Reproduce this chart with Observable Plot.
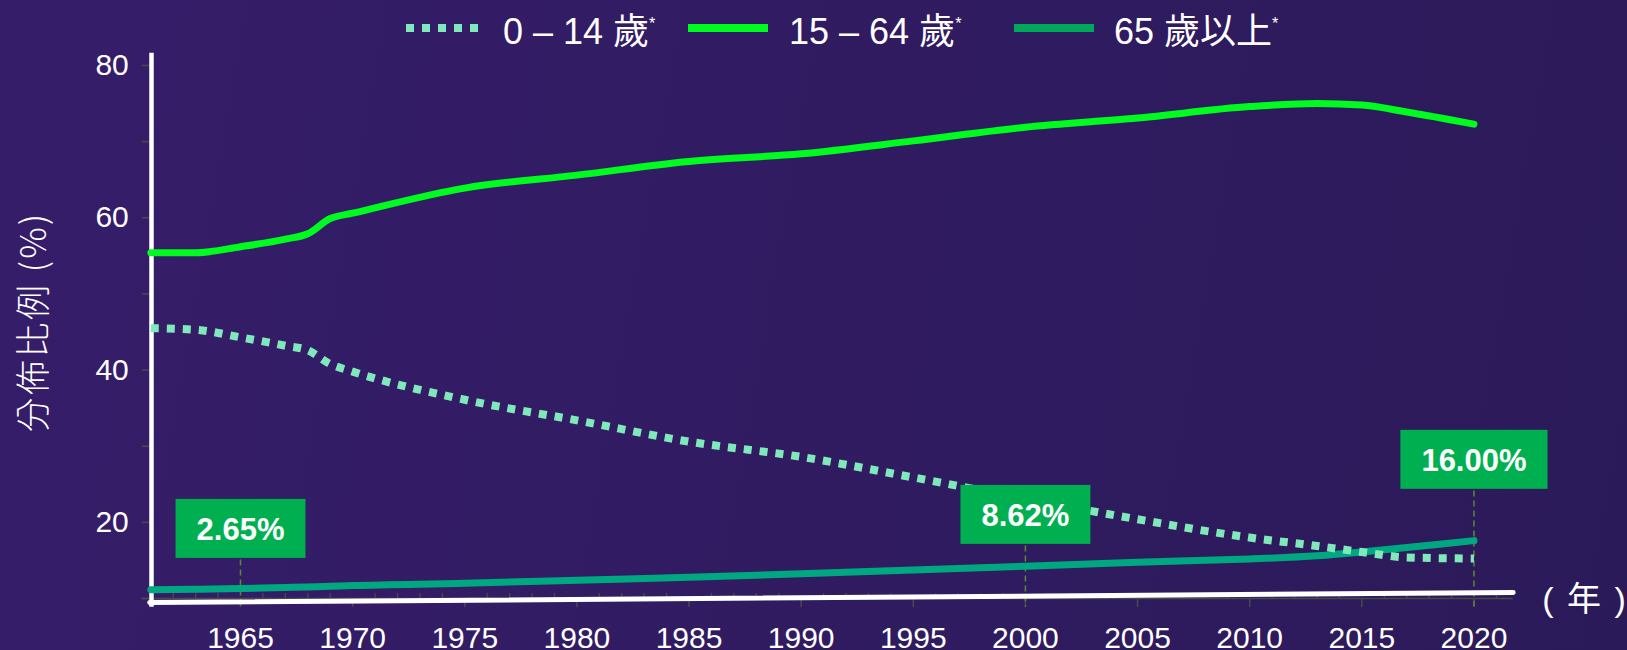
<!DOCTYPE html>
<html><head><meta charset="utf-8">
<script src="https://cdn.jsdelivr.net/npm/d3@7"></script>
<script src="https://cdn.jsdelivr.net/npm/@observablehq/plot@0.6"></script>
<style>
html,body{margin:0;padding:0;}
body{width:1627px;height:650px;overflow:hidden;background:linear-gradient(100deg,#361d6a 0%,#2b1a59 100%);font-family:"Liberation Sans",Arial,"Noto Sans CJK TC",sans-serif;}
#wrap{position:relative;width:1627px;height:650px;}
#legend{position:absolute;left:0;top:0;width:1627px;height:58px;color:#fff;font-size:36px;z-index:2;}
.sw{position:absolute;top:24px;width:80px;height:8px;}
.lb{position:absolute;top:12px;line-height:40px;white-space:nowrap;}
.lb sup{font-size:0.45em;vertical-align:0;position:relative;top:-0.95em;}
#chart svg{display:block;background:transparent;}
</style></head>
<body><div id="wrap"><div id="legend"></div><div id="chart"></div></div>
<script>
// ---- data ----
const years     = [1961,1963,1965,1967,1968,1969,1970,1975,1980,1985,1990,1995,2000,2005,2010,2013,2015,2017,2020];
const age0to14  = [45.5,45.3,44.3,43.2,42.6,40.8,39.8,36.1,33.4,30.6,28.6,25.9,23.1,20.4,18.0,16.9,16.1,15.4,15.25];
const age15to64 = [55.4,55.4,56.2,57.2,57.9,59.9,60.6,63.9,65.6,67.4,68.4,70.1,71.9,73.1,74.6,75.0,74.8,73.9,72.3];
const age65plus = [11.15,11.2,11.3,11.45,11.5,11.6,11.7,12.0,12.4,12.8,13.25,13.75,14.25,14.75,15.2,15.6,16.1,16.7,17.6];
const seriesNames = ["0 – 14 歲", "15 – 64 歲", "65 歲以上"];
const annoYears  = [1965, 2000, 2020];
const annoLabels = ["2.65%", "8.62%", "16.00%"];
const annoLevels = [19.0, 20.84, 28.07];
const yTickLabels = [20, 40, 60, 80];
const yTickMarks  = [10, 20, 30, 40, 50, 60, 70, 80];
const xTickLabels = [1965, 1970, 1975, 1980, 1985, 1990, 1995, 2000, 2005, 2010, 2015, 2020];
const xMinorTicks = d3.range(1962, 2022).filter(y => y % 5 !== 0);
const baselineYears = [1960.95, 2021.75];
const baselineVals  = [9.47, 10.79];
const yTitle = "分佈比例 (%)";
const xTitle = "( 年 )";

// ---- styles ----
const C0 = "#80e9bb", C1 = "#00fb1e", C2 = "#00a881", CBOX = "#00b050", CLEAD = "#5a8a33", CGRAY = "#4a4a4a";

// legend
const legend = document.getElementById("legend");
const legItems = [
  {sx:406, lx:503, style:`background:repeating-linear-gradient(90deg,${C0} 0 8px,transparent 8px 16px);`},
  {sx:688, lx:789, style:`background:${C1};`},
  {sx:1014, lx:1114, style:`background:#00a85a;`}
];
legItems.forEach((it, i) => {
  const s = document.createElement("div"); s.className = "sw"; s.style.cssText = `left:${it.sx}px;${it.style}`;
  const l = document.createElement("div"); l.className = "lb"; l.style.left = it.lx + "px";
  l.innerHTML = seriesNames[i] + "<sup>*</sup>";
  legend.append(s, l);
});

const mk = vals => years.map((y, i) => ({year: y, v: vals[i]}));
const baseline = baselineYears.map((y, i) => ({year: y, v: baselineVals[i]}));
const annos = annoYears.map((y, i) => ({year: y, label: annoLabels[i], level: annoLevels[i]}));

const plot = Plot.plot({
  width: 1627, height: 650,
  marginLeft: 150.3, marginRight: 114.3, marginTop: 65, marginBottom: 52,
  x: {domain: [1961, 2021.75]},
  y: {domain: [10, 80]},
  style: {background: "transparent", fontFamily: '"Liberation Sans", Arial, "Noto Sans CJK TC", sans-serif', overflow: "visible"},
  marks: [
    // y tick marks and labels
    Plot.axisY({ticks: yTickMarks, tickSize: 8.5, text: null, stroke: CGRAY, strokeWidth: 1.5}),
    Plot.axisY({ticks: yTickLabels, tickSize: 0, tickPadding: 22, fontSize: 30, fill: "#fff", label: null, tickFormat: d => d}),
    // x axis gray line and ticks
    Plot.ruleY([10], {x1: 1960.6, x2: 2021.75, stroke: CGRAY, strokeWidth: 1.5}),
    Plot.ruleX(xMinorTicks, {y1: 10, y2: 10.66, stroke: CGRAY, strokeWidth: 1.3}),
    Plot.axisX({ticks: xTickLabels, tickSize: 9, tickPadding: 19, fontSize: 30, fill: "#fff", stroke: CGRAY, strokeWidth: 1.5, label: null, tickFormat: d => String(d)}),
    // leader lines
    Plot.ruleX(annos, {x: "year", y1: "level", y2: 8.86, stroke: CLEAD, strokeWidth: 1.5, strokeDasharray: "6,4"}),
    // white axis frame
    Plot.line(baseline, {x: "year", y: "v", stroke: "#fff", strokeWidth: 5}),
    Plot.ruleX([1961], {y1: 8.86, y2: 81.6, stroke: "#fff", strokeWidth: 4.5, dx: 0.7}),
    // series
    Plot.line(mk(age65plus), {x: "year", y: "v", stroke: C2, strokeWidth: 7, curve: "monotone-x"}),
    Plot.line(mk(age15to64), {x: "year", y: "v", stroke: C1, strokeWidth: 7, curve: "monotone-x"}),
    Plot.line(mk(age0to14), {x: "year", y: "v", stroke: C0, strokeWidth: 8, strokeDasharray: "8,8", strokeLinecap: "butt", curve: "monotone-x"}),
    // annotation labels
    Plot.text(annos, {x: "year", y: "level", text: "label", fill: "#fff", fontSize: 31, fontWeight: "bold", className: "anno"}),
    // axis titles
    Plot.text([yTitle], {frameAnchor: "left", textAnchor: "middle", lineAnchor: "middle", rotate: -90, dx: -116, dy: -10, fontSize: 35, fill: "#fff", fontFamily: '"Noto Sans CJK TC", sans-serif', fontWeight: 300, className: "ytitle"}),
    Plot.text([xTitle], {frameAnchor: "bottom-right", textAnchor: "start", lineAnchor: "middle", dx: 29, dy: 2, fontSize: 34, fill: "#fff", fontFamily: '"Liberation Sans", "Noto Sans CJK TC", sans-serif', className: "xtitle"})
  ]
});
document.getElementById("chart").append(plot);
plot.querySelectorAll("g.ytitle text").forEach(t => t.style.letterSpacing = "2.5px");
plot.querySelectorAll("g.xtitle text").forEach(t => t.style.letterSpacing = "2px");

// boxes behind annotation text
plot.querySelectorAll("g.anno text").forEach(t => {
  const b = t.getBBox();
  const r = document.createElementNS("http://www.w3.org/2000/svg", "rect");
  const w = b.width + 42, h = 59;
  r.setAttribute("x", b.x + b.width / 2 - w / 2);
  r.setAttribute("y", b.y + b.height / 2 - 1 - h / 2);
  r.setAttribute("width", w); r.setAttribute("height", h);
  r.setAttribute("fill", CBOX);
  if (t.getAttribute("transform")) r.setAttribute("transform", t.getAttribute("transform"));
  t.parentNode.insertBefore(r, t);
});
</script></body></html>
